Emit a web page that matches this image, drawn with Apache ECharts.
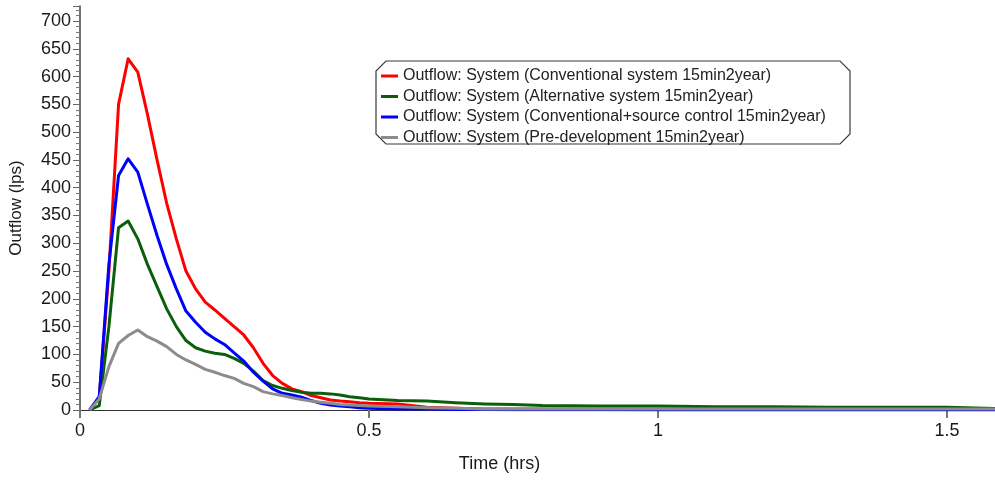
<!DOCTYPE html>
<html>
<head>
<meta charset="utf-8">
<script src="https://cdn.jsdelivr.net/npm/echarts@6/dist/echarts.min.js"></script>
<style>
html,body{margin:0;padding:0;background:#fff;}
#chart{width:995px;height:482px;}
</style>
</head>
<body>
<div id="chart"></div>
<script>
// Time in hours
var timeHrs = [0.0167, 0.0333, 0.05, 0.0667, 0.0833, 0.1, 0.1167, 0.1333, 0.15, 0.1667,
  0.1833, 0.2, 0.2167, 0.2333, 0.25, 0.2667, 0.2833, 0.3, 0.3167, 0.3333,
  0.35, 0.3667, 0.3833, 0.4, 0.4167, 0.4333, 0.45, 0.4667, 0.4833, 0.5,
  0.55, 0.6, 0.65, 0.7, 0.75, 0.8, 0.9, 1.0, 1.1, 1.2, 1.3, 1.4, 1.5, 1.6];

var conventional = [0, 22, 250, 550, 632, 608, 532, 450, 372, 308,
  250, 218, 194, 180, 165, 150, 135, 112, 84, 62,
  48, 38, 33, 26, 22, 18, 16, 15, 13, 12,
  11, 5, 3, 2, 2, 2, 2, 2, 2, 2, 2, 2, 2, 2];

var alternative = [0, 8, 150, 328, 340, 308, 262, 222, 182, 150,
  125, 112, 106, 102, 100, 93, 84, 70, 53, 44,
  39, 35, 32, 30, 30, 29, 27, 24, 22, 20,
  17, 16, 13, 11, 10, 8, 7, 7, 6, 6, 5, 5, 5, 2];

var convSource = [0, 24, 262, 422, 452, 428, 370, 314, 262, 218,
  178, 158, 140, 128, 118, 103, 88, 68, 52, 38,
  30, 27, 23, 17, 12, 9, 7, 6, 4, 3,
  2, 2, 1, 1, 0.5, 0.5, 0.5, 0, 0, 0, 0, 0, 0, 0];

var preDev = [0, 20, 78, 120, 134, 144, 132, 124, 114, 100,
  90, 82, 73, 68, 62, 57, 48, 42, 33, 29,
  26, 22, 19, 16, 14, 12, 10, 9, 8, 7,
  6, 4, 3, 2, 2, 2, 2, 2, 2, 2, 2, 2, 2, 2];

var seriesNames = [
  'Outflow: System (Conventional system 15min2year)',
  'Outflow: System (Alternative system 15min2year)',
  'Outflow: System (Conventional+source control 15min2year)',
  'Outflow: System (Pre-development 15min2year)'
];
var seriesColors = ['#ff0000', '#0b5e0b', '#0000ff', '#8c8c8c'];
var seriesValues = [conventional, alternative, convSource, preDev];

var yTicks = { min: 0, max: 727, interval: 50 };
var xTicks = { min: 0, max: 1.583, interval: 0.5 };

function pairs(vals) {
  return timeHrs.map(function (t, i) { return [t, vals[i]]; });
}

var chart = echarts.init(document.getElementById('chart'), null, { renderer: 'canvas' });
var FONT = '"Liberation Sans", Arial, sans-serif';

var option = {
  animation: false,
  backgroundColor: '#ffffff',
  grid: { left: 80, right: 0, top: 6, bottom: 72, containLabel: false },
  legend: {
    orient: 'vertical',
    left: 381,
    top: 68,
    padding: 0,
    itemGap: 4.5,
    itemWidth: 17,
    itemHeight: 3,
    icon: 'rect',
    textStyle: { fontFamily: FONT, fontSize: 16, color: '#222', lineHeight: 16 },
    data: seriesNames
  },
  graphic: [{
    type: 'polygon',
    z: -1,
    shape: { points: [[386, 61], [840, 61], [850, 71], [850, 134], [840, 144], [386, 144], [376, 134], [376, 71]] },
    style: { fill: '#ffffff', stroke: '#3a3a3a', lineWidth: 1.2 }
  }],
  xAxis: [{
    type: 'value',
    min: xTicks.min, max: xTicks.max, interval: xTicks.interval,
    name: 'Time (hrs)',
    nameLocation: 'middle',
    nameGap: 45,
    nameTextStyle: { fontFamily: FONT, fontSize: 18, color: '#1a1a1a', padding: [0, 76, 0, 0] },
    axisLine: { show: true, onZero: false, lineStyle: { color: '#555', width: 1 } },
    axisTick: { show: true, length: 8, lineStyle: { color: '#777', width: 2 } },
    axisLabel: { fontFamily: FONT, fontSize: 18, color: '#1a1a1a', margin: 12, showMaxLabel: false,
      formatter: function (v) { return String(v); } },
    splitLine: { show: false }
  }, {
    type: 'value', position: 'top',
    min: xTicks.min, max: xTicks.max,
    axisLine: { show: true, lineStyle: { color: '#333', width: 1 } },
    axisTick: { show: false }, axisLabel: { show: false }, splitLine: { show: false }
  }],
  yAxis: {
    type: 'value',
    min: yTicks.min, max: yTicks.max, interval: yTicks.interval,
    name: 'Outflow (lps)',
    nameLocation: 'middle',
    nameGap: 55,
    nameTextStyle: { fontFamily: FONT, fontSize: 17, color: '#1a1a1a' },
    axisLine: { show: true, lineStyle: { color: '#444', width: 1.5 } },
    axisTick: { show: true, length: 7, lineStyle: { color: '#666', width: 1 } },
    minorTick: { show: true, splitNumber: 5, length: 4, lineStyle: { color: '#777', width: 1 } },
    axisLabel: { fontFamily: FONT, fontSize: 18, color: '#1a1a1a', margin: 9, showMaxLabel: false },
    splitLine: { show: false }
  },
  series: seriesNames.map(function (n, i) {
    return {
      name: n,
      type: 'line',
      data: pairs(seriesValues[i]),
      showSymbol: false,
      symbol: 'none',
      color: seriesColors[i],
      lineStyle: { width: 3, color: seriesColors[i], join: 'round' },
      z: 2 + i
    };
  })
};
chart.setOption(option);
</script>
</body>
</html>
